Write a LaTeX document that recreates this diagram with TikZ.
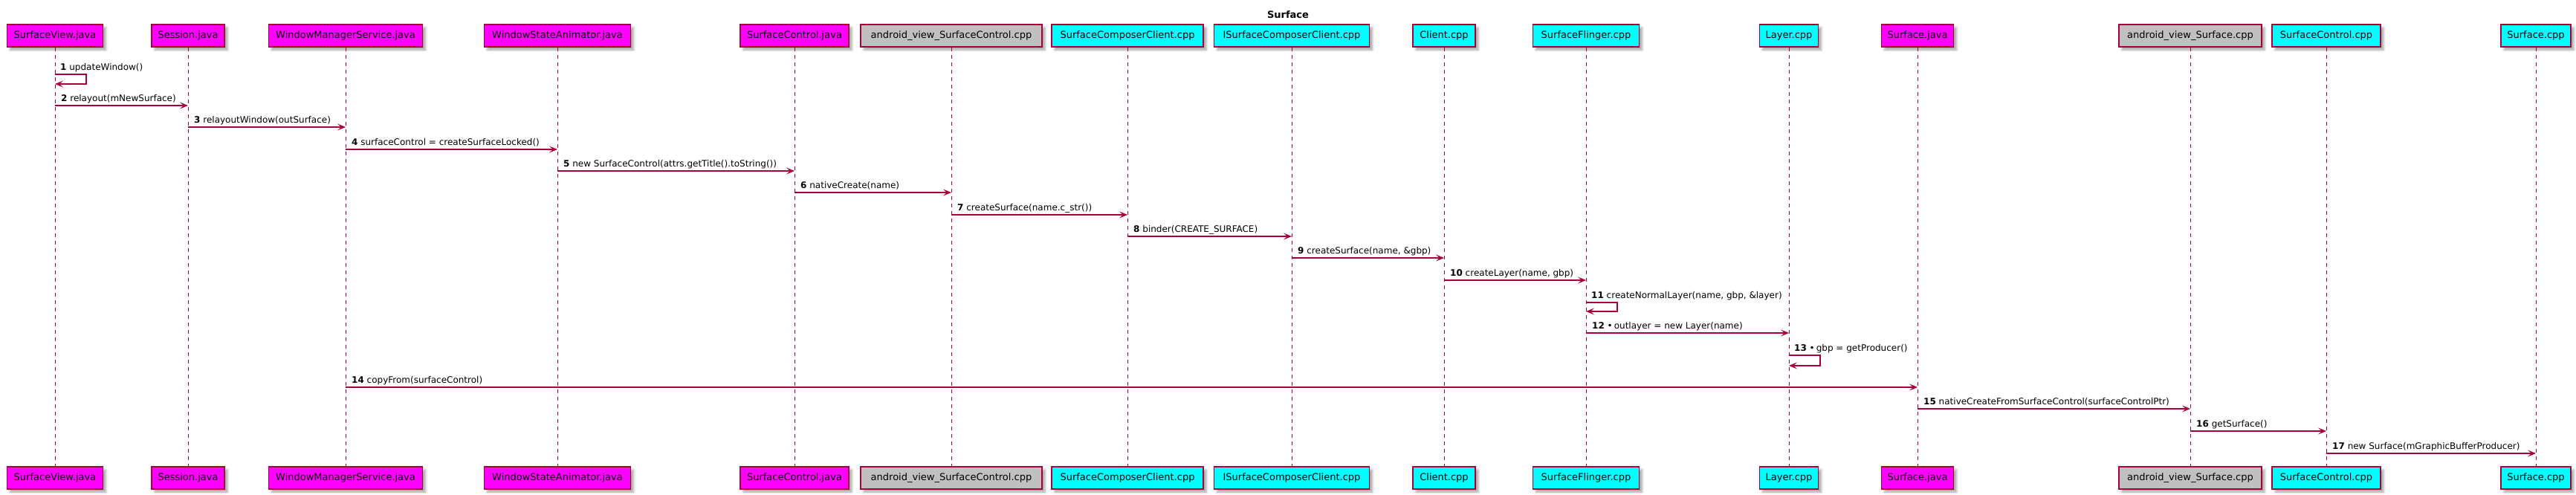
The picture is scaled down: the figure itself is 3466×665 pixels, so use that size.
\documentclass[tikz,border=0pt]{standalone}
\usepackage{fontspec}
\setmainfont{DejaVu Sans}
\usetikzlibrary{arrows.meta,shadows,shadows.blur,calc}
\definecolor{pu}{HTML}{A80036}
\definecolor{mag}{HTML}{FF00FF}
\definecolor{cya}{HTML}{00FFFF}
\definecolor{sil}{HTML}{C0C0C0}
\begin{document}
\begin{tikzpicture}[x=1pt,y=-1pt,
  part/.style={draw=pu, line width=1.2pt, minimum height=30pt, inner sep=0pt,
    font=\fontsize{13}{15}\selectfont,
    blur shadow={shadow xshift=4pt, shadow yshift=-4pt, shadow blur radius=3pt, shadow opacity=35}},
  life/.style={draw=pu, line width=0.9pt, dash pattern=on 5pt off 5pt},
  msg/.style={draw=pu, line width=1.1pt, -{Stealth[length=11pt,width=9pt,inset=5pt]}},
  lbl/.style={anchor=base west, inner sep=0pt, font=\fontsize{12}{14}\selectfont},
  ttl/.style={inner sep=0pt, font=\fontsize{13}{15}\selectfont\bfseries},
]
\useasboundingbox (0,0) rectangle (3466,665);

\node[ttl] (title) at (1733,20) {Surface};

% participants: name / x / width / colour / text
\foreach \n/\x/\w/\c/\t in {
  1/74/129/mag/SurfaceView.java,
  2/253/98/mag/Session.java,
  3/465/207/mag/WindowManagerService.java,
  4/750/197/mag/WindowStateAnimator.java,
  5/1069/146/mag/SurfaceControl.java,
  6/1280/244/sil/android\_view\_SurfaceControl.cpp,
  7/1517/204/cya/SurfaceComposerClient.cpp,
  8/1738/209/cya/ISurfaceComposerClient.cpp,
  9/1943/84/cya/Client.cpp,
  10/2134/143/cya/SurfaceFlinger.cpp,
  11/2407/79/cya/Layer.cpp,
  12/2580/97/mag/Surface.java,
  13/2947/192/sil/android\_view\_Surface.cpp,
  14/3130/146/cya/SurfaceControl.cpp,
  15/3412/94/cya/Surface.cpp}{
  \node[part, fill=\c, minimum width=\w pt] (p\n t) at (\x,48) {\t};
  \node[part, fill=\c, minimum width=\w pt] (p\n b) at (\x,643) {\t};
  \draw[life] (p\n t.south) -- (p\n b.north);
}

% message rows
\foreach \n/\y in {1/100,2/142,3/171,4/201,5/230,6/259,7/289,8/318,9/347,
  10/377,11/407,12/448,13/478,14/521,15/550,16/580,17/610}{
  \coordinate (r\n) at (0,\y);
}

% 1 self
\draw[msg] (p1t |- r1) -- ++(42,0) -- ++(0,13) -- ++(-42,0);
\node[lbl] (l1) at ($(p1t |- r1)+(7,-6)$) {\textbf{1} updateWindow()};
% 2
\draw[msg] (p1t |- r2) -- (p2t |- r2);
\node[lbl] (l2) at ($(p1t |- r2)+(8,-6)$) {\textbf{2} relayout(mNewSurface)};
% 3
\draw[msg] (p2t |- r3) -- (p3t |- r3);
\node[lbl] (l3) at ($(p2t |- r3)+(8,-6)$) {\textbf{3} relayoutWindow(outSurface)};
% 4
\draw[msg] (p3t |- r4) -- (p4t |- r4);
\node[lbl] (l4) at ($(p3t |- r4)+(8,-6)$) {\textbf{4} surfaceControl = createSurfaceLocked()};
% 5
\draw[msg] (p4t |- r5) -- (p5t |- r5);
\node[lbl] (l5) at ($(p4t |- r5)+(8,-6)$) {\textbf{5} new SurfaceControl(attrs.getTitle().toString())};
% 6
\draw[msg] (p5t |- r6) -- (p6t |- r6);
\node[lbl] (l6) at ($(p5t |- r6)+(8,-6)$) {\textbf{6} nativeCreate(name)};
% 7
\draw[msg] (p6t |- r7) -- (p7t |- r7);
\node[lbl] (l7) at ($(p6t |- r7)+(8,-6)$) {\textbf{7} createSurface(name.c\_str())};
% 8
\draw[msg] (p7t |- r8) -- (p8t |- r8);
\node[lbl] (l8) at ($(p7t |- r8)+(8,-6)$) {\textbf{8} binder(CREATE\_SURFACE)};
% 9
\draw[msg] (p8t |- r9) -- (p9t |- r9);
\node[lbl] (l9) at ($(p8t |- r9)+(8,-6)$) {\textbf{9} createSurface(name, \&gbp)};
% 10
\draw[msg] (p9t |- r10) -- (p10t |- r10);
\node[lbl] (l10) at ($(p9t |- r10)+(8,-6)$) {\textbf{10} createLayer(name, gbp)};
% 11 self
\draw[msg] (p10t |- r11) -- ++(42,0) -- ++(0,12) -- ++(-42,0);
\node[lbl] (l11) at ($(p10t |- r11)+(7,-6)$) {\textbf{11} createNormalLayer(name, gbp, \&layer)};
% 12
\draw[msg] (p10t |- r12) -- (p11t |- r12);
\node[lbl] (l12) at ($(p10t |- r12)+(8,-6)$) {\textbf{12} •\,outlayer = new Layer(name)};
% 13 self
\draw[msg] (p11t |- r13) -- ++(42,0) -- ++(0,14) -- ++(-42,0);
\node[lbl] (l13) at ($(p11t |- r13)+(7,-6)$) {\textbf{13} •\,gbp = getProducer()};
% 14
\draw[msg] (p3t |- r14) -- (p12t |- r14);
\node[lbl] (l14) at ($(p3t |- r14)+(8,-6)$) {\textbf{14} copyFrom(surfaceControl)};
% 15
\draw[msg] (p12t |- r15) -- (p13t |- r15);
\node[lbl] (l15) at ($(p12t |- r15)+(8,-6)$) {\textbf{15} nativeCreateFromSurfaceControl(surfaceControlPtr)};
% 16
\draw[msg] (p13t |- r16) -- (p14t |- r16);
\node[lbl] (l16) at ($(p13t |- r16)+(8,-6)$) {\textbf{16} getSurface()};
% 17
\draw[msg] (p14t |- r17) -- (p15t |- r17);
\node[lbl] (l17) at ($(p14t |- r17)+(8,-6)$) {\textbf{17} new Surface(mGraphicBufferProducer)};
\end{tikzpicture}
\end{document}
